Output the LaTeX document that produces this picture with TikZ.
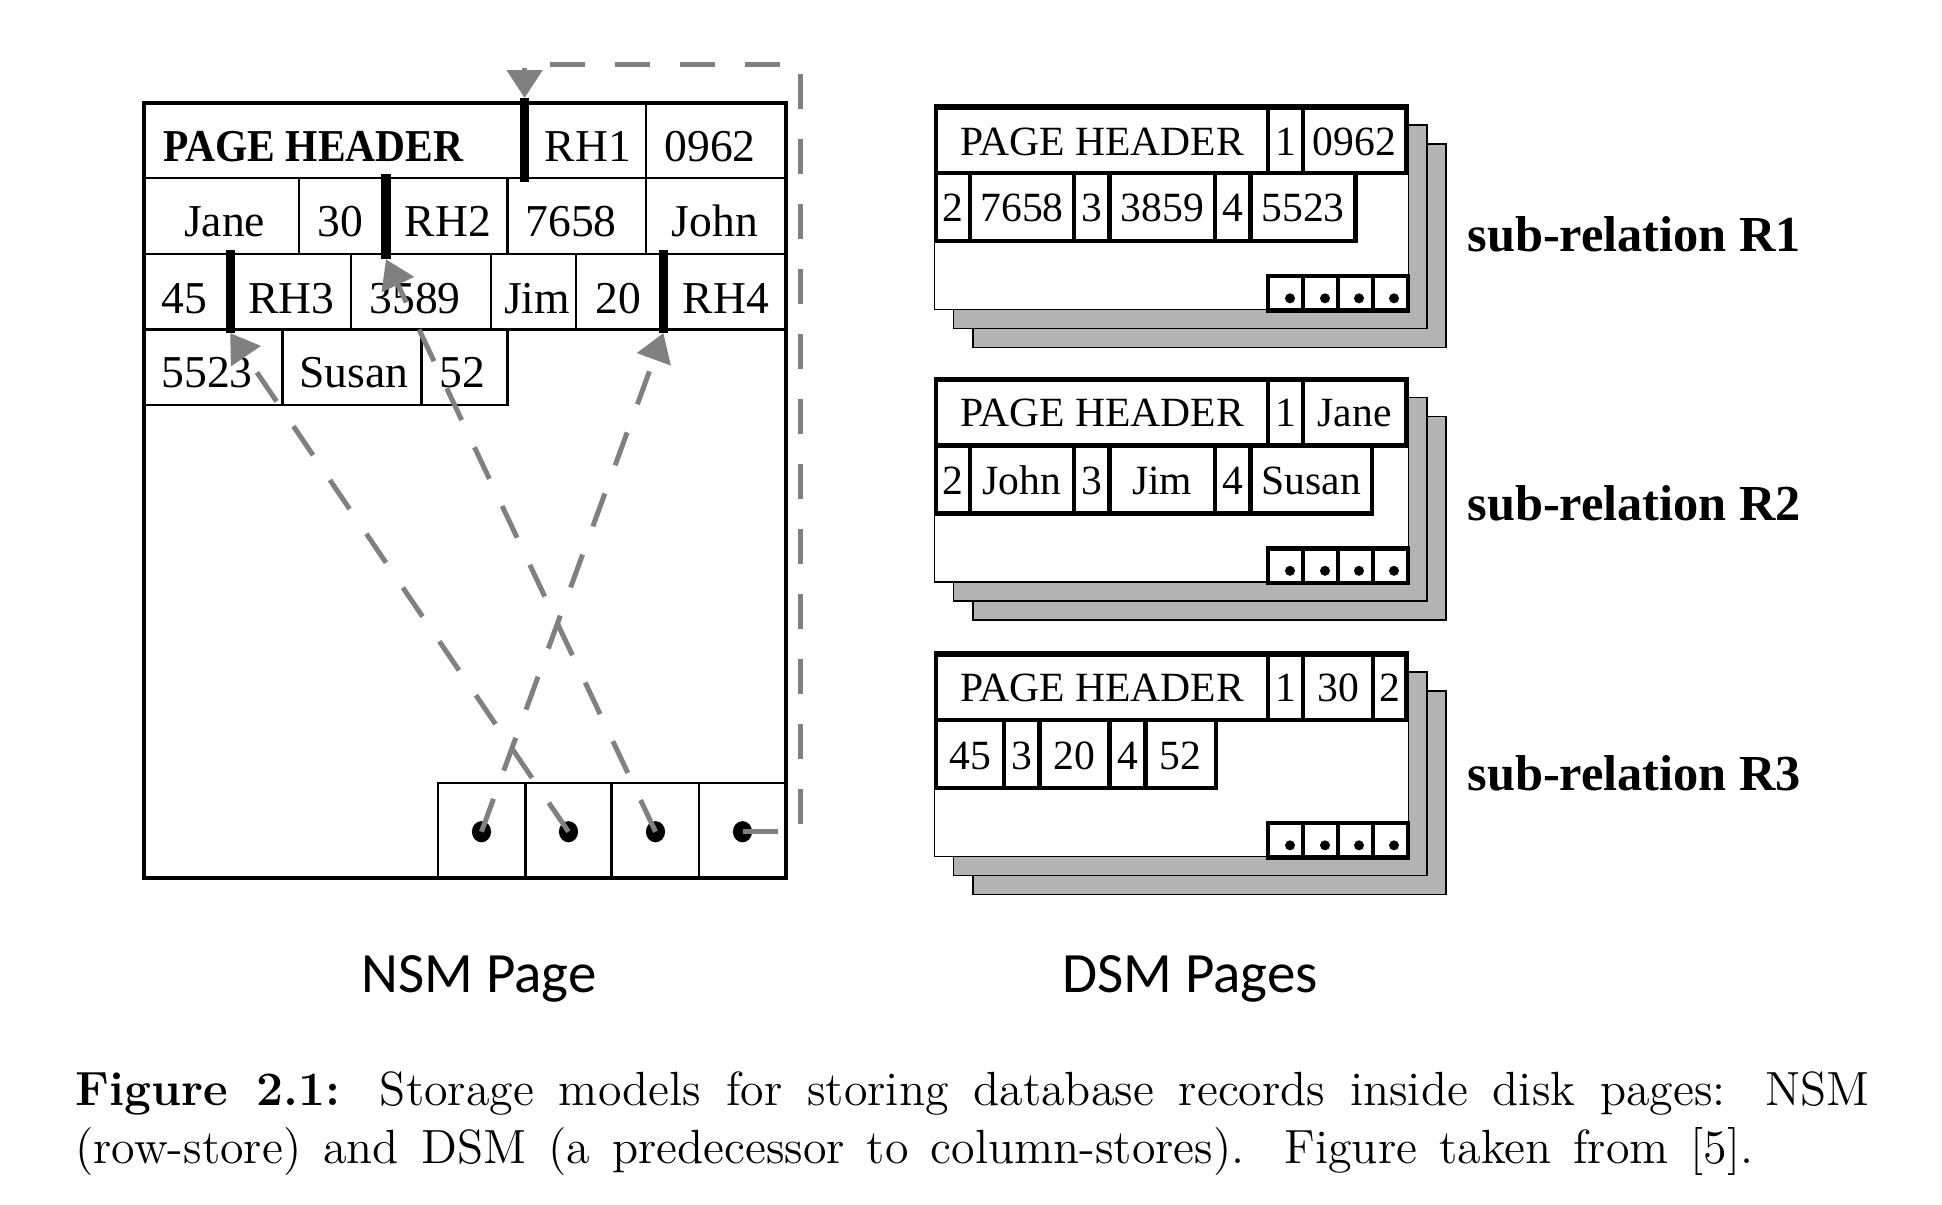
\documentclass[tikz,border=0pt]{standalone}
\usepackage{fontspec}
\newfontfamily\timesfont{Liberation Serif}
\newfontfamily\headfont[FakeStretch=0.91]{Liberation Serif}
\newfontfamily\calibfont{Carlito}
\usetikzlibrary{arrows.meta,shapes.geometric}
\definecolor{arrowgray}{RGB}{128,128,128}
\definecolor{shadowgray}{RGB}{179,179,179}
\tikzset{
  nsmcell/.style={draw, line width=0.6pt},
  nsmtext/.style={font=\timesfont\fontsize{11.4}{13}\selectfont, inner sep=0pt, anchor=base},
  rowbar/.style={line width=2.3pt},
  nsmdot/.style={ellipse, fill, inner sep=0pt, minimum width=4.8pt, minimum height=5.3pt},
  pointer/.style={draw=arrowgray, line width=1.25pt, dash pattern=on 8.75pt off 7.5pt, -{Triangle[length=7pt,width=8.75pt]}},
  page/.style={draw, line width=0.4pt},
  dsmcell/.style={draw, line width=1.15pt},
  dsmtext/.style={font=\timesfont\fontsize{10.4}{12}\selectfont, inner sep=0pt, anchor=base},
  dsmdot/.style={circle, fill, inner sep=0pt, minimum size=2.5pt},
  sublabel/.style={font=\timesfont\bfseries\fontsize{12.6}{15}\selectfont, inner sep=0pt, anchor=base west},
  pagelabel/.style={font=\calibfont\fontsize{14.25}{17}\selectfont, inner sep=0pt, anchor=base}
}
\begin{document}
\begin{tikzpicture}[x=0.25pt, y=-0.25pt]
\useasboundingbox (0,0) rectangle (1942,1204);
% NSM page
\foreach \xa/\xb in {144/524.6, 524.6/646, 646/785.7} \draw[nsmcell] (\xa,102.5) rectangle (\xb,178);
\foreach \xa/\xb in {144/299, 299/386, 386/507.3, 507.3/646, 646/785.7} \draw[nsmcell] (\xa,178) rectangle (\xb,254);
\foreach \xa/\xb in {144/230.2, 230.2/351.2, 351.2/490.8, 490.8/575.8, 575.8/663.4, 663.4/785.7} \draw[nsmcell] (\xa,254) rectangle (\xb,329.5);
\foreach \xa/\xb in {144/282.6, 282.6/421.4, 421.4/507.3} \draw[nsmcell] (\xa,329.5) rectangle (\xb,405);
\foreach \xa/\xb in {438/525.5, 525.5/611.5, 611.5/699, 699/785.7} \draw[nsmcell] (\xa,783) rectangle (\xb,878.3);
\draw[line width=1pt] (144,102.5) rectangle (785.7,878.3);
\node[nsmtext, anchor=base west, font=\headfont\bfseries\fontsize{11.4}{13}\selectfont] (header) at (162.5,161) {PAGE HEADER};
\foreach \txt/\x/\y/\nm in {RH1/588/161.5/rh1, 0962/710/161.5/v0962, Jane/224.7/236/jane, 30/340/236/v30, RH2/448/236/rh2, 7658/571/236/v7658, John/715/236/john, 45/184/313/v45, RH3/291.6/313/rh3, 3589/415/313/v3589, Jim/537/313/jim, 20/618/313/v20, RH4/726/313/rh4, 5523/207/387/v5523, Susan/354/387/susan, 52/462/387/v52}
  \node[nsmtext] (\nm) at (\x,\y) {\txt};
\draw[rowbar] (524.6,98) coordinate (rh1in) -- (524.6,182);
\draw[rowbar] (386,174) -- (386,259.3) coordinate (rh2in);
\draw[rowbar] (230.2,250) -- (230.2,333) coordinate (rh3in);
\draw[rowbar] (663.4,250) -- (663.4,333) coordinate (rh4in);
\foreach \x [count=\i] in {481.5,568.5,655.5,742.5} \node[nsmdot] (slot\i) at (\x,831.7) {};
\coordinate (bend) at (800,64);
\draw[pointer] (slot1.center) -- (rh4in);
\draw[pointer] (slot2.center) -- (rh3in);
\draw[pointer] (slot3.center) -- (rh2in);
\draw[pointer] (slot4.center) -| (bend) -| (rh1in);
% DSM pages
\foreach \ytop [count=\pg] in {105,377.5,652} {
  \draw[page, fill=shadowgray] (973,\ytop+39) rectangle (1446.2,\ytop+242.3);
  \draw[page, fill=shadowgray] (953.4,\ytop+20) rectangle (1427.2,\ytop+223.3);
  \draw[page, fill=white] (934.5,\ytop) rectangle (1408.3,\ytop+204.3);
  \foreach \xa/\xb in {1268/1303, 1303/1338, 1338/1373, 1373/1408} \draw[dsmcell] (\xa,\ytop+171) rectangle (\xb,\ytop+205.5);
  \foreach \x [count=\j] in {1290,1325,1359,1394} \node[dsmdot] (r\pg dot\j) at (\x,\ytop+193.3) {};
}
% R1
\foreach \xa/\xb/\txt/\nm in {936/1268/PAGE HEADER/a-head, 1268/1303/1/a-1, 1303/1406/0962/a-0962} {
  \draw[dsmcell] (\xa,107.3) rectangle (\xb,173);
  \node[dsmtext] (\nm) at ({(\xa+\xb)/2},155) {\txt};
}
\foreach \xa/\xb/\txt/\nm in {936/970/2/a-2, 970/1074/7658/a-7658, 1074/1109.5/3/a-3, 1109.5/1215/3859/a-3859, 1215/1250.5/4/a-4, 1250.5/1355.5/5523/a-5523} {
  \draw[dsmcell] (\xa,173) rectangle (\xb,241);
  \node[dsmtext] (\nm) at ({(\xa+\xb)/2},221.7) {\txt};
}
% R2
\foreach \xa/\xb/\txt/\nm in {936/1268/PAGE HEADER/b-head, 1268/1303/1/b-1, 1303/1406/Jane/b-jane} {
  \draw[dsmcell] (\xa,379.8) rectangle (\xb,445.5);
  \node[dsmtext] (\nm) at ({(\xa+\xb)/2},426.8) {\txt};
}
\foreach \xa/\xb/\txt/\nm in {936/970/2/b-2, 970/1074/John/b-john, 1074/1109.5/3/b-3, 1109.5/1215/Jim/b-jim, 1215/1250.5/4/b-4, 1250.5/1372/Susan/b-susan} {
  \draw[dsmcell] (\xa,445.5) rectangle (\xb,513.5);
  \node[dsmtext] (\nm) at ({(\xa+\xb)/2},494.8) {\txt};
}
% R3
\foreach \xa/\xb/\txt/\nm in {936/1268/PAGE HEADER/c-head, 1268/1303/1/c-1, 1303/1373/30/c-30, 1373/1406/2/c-2} {
  \draw[dsmcell] (\xa,654.3) rectangle (\xb,720);
  \node[dsmtext] (\nm) at ({(\xa+\xb)/2},701) {\txt};
}
\foreach \xa/\xb/\txt/\nm in {936/1004/45/c-45, 1004/1039.5/3/c-3, 1039.5/1109.5/20/c-20, 1109.5/1145.5/4/c-4, 1145.5/1216/52/c-52} {
  \draw[dsmcell] (\xa,720) rectangle (\xb,788);
  \node[dsmtext] (\nm) at ({(\xa+\xb)/2},769.3) {\txt};
}
\node[sublabel] (sub1) at (1466.7,251.4) {sub-relation R1};
\node[sublabel] (sub2) at (1466.7,520.8) {sub-relation R2};
\node[sublabel] (sub3) at (1466.7,790) {sub-relation R3};
\node[pagelabel] (nsmname) at (479,992.7) {NSM Page};
\node[pagelabel] (dsmname) at (1190,992.7) {DSM Pages};
% caption
\node[anchor=base west, inner sep=0pt, font=\fontsize{12}{14.5}\selectfont] (cap1) at (74.4,1105)
  {\makebox[448.6pt][s]{\textbf{Figure 2.1:} Storage models for storing database records inside disk pages: NSM}};
\node[anchor=base west, inner sep=0pt, font=\fontsize{12}{14.5}\selectfont] (cap2) at (74.4,1163)
  {\makebox[419.6pt][s]{(row-store) and DSM (a predecessor to column-stores). Figure taken from [5].}};
\end{tikzpicture}
\end{document}
